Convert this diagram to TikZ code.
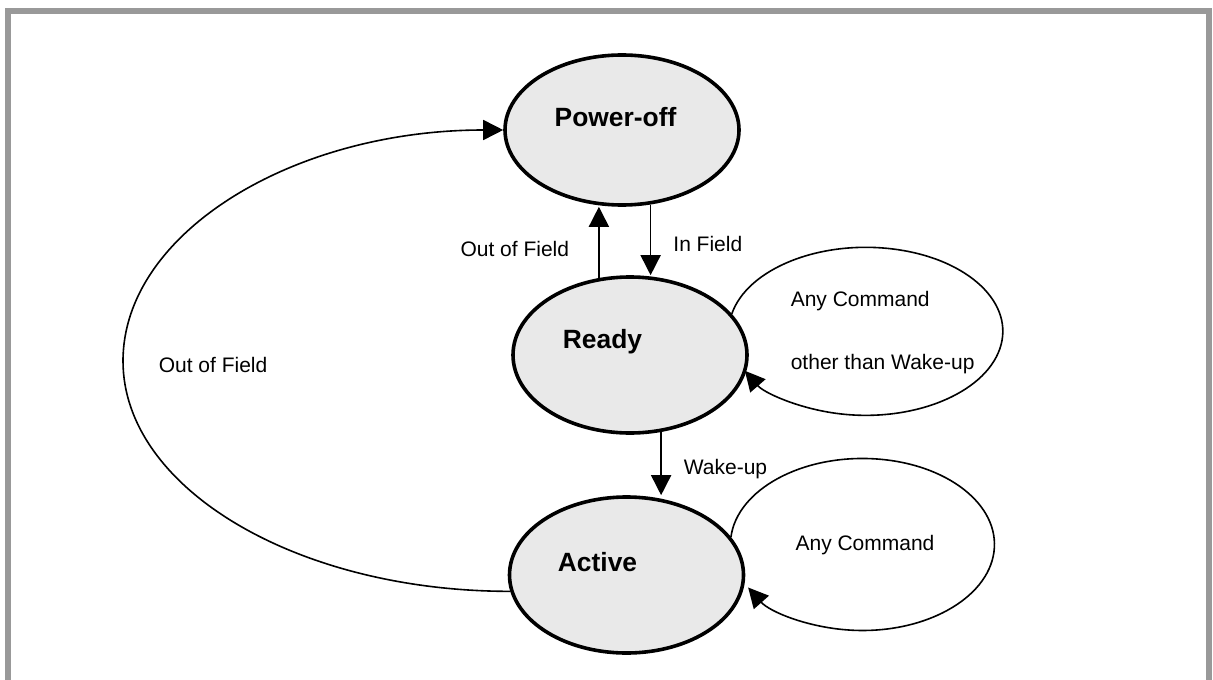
\documentclass[tikz,border=0pt]{standalone}
\usepackage{fontspec}
\setmainfont{Liberation Sans}
\usetikzlibrary{shapes.geometric,arrows.meta}

\definecolor{stategray}{HTML}{E9E9E9}
\definecolor{framegray}{HTML}{999999}

\tikzset{
  state/.style={draw,ellipse,line width=1.8pt,fill=stategray,minimum width=117pt,inner sep=0pt},
  statename/.style={font=\fontsize{13.2}{15}\selectfont\bfseries},
  lbl/.style={font=\fontsize{10.5}{12}\selectfont,inner sep=0pt},
  >={Triangle[length=10pt,width=10pt]}
}

\begin{document}
\begin{tikzpicture}[x=0.5pt,y=-0.5pt,line width=0.8pt]
  \useasboundingbox (0,0) rectangle (1213,679);
  \draw[framegray,line width=3pt] (8,680) -- (8,11) -- (1208.5,11) -- (1208.5,680);
  % the three states
  \foreach \n/\t/\x/\y/\h/\dx in {poweroff/Power-off/622/130/75/-3.25, ready/Ready/630/355/78/-13.75, active/Active/626.5/575/78/-14.5}{
    \node[state,minimum height=\h pt,label={[statename,xshift=\dx pt,yshift=6.5pt]center:\t}](\n) at(\x,\y) {};
  }
  % transitions
  \draw[->](ready.112)--node[lbl,pos=0.41,left=14.5pt](outshort){Out of Field}(ready.112 |- poweroff.south);
  \draw[->](poweroff.-69)--node[lbl,pos=0.56,right=11pt](infield){In Field}(poweroff.-69 |- ready.north);
  \draw[->](ready.-68)--node[lbl,pos=0.59,right=11pt](wakeup){Wake-up}(ready.-68 |- active.north);
  \coordinate (farleft) at (123,361);
  \draw[->](active.188) .. controls +(-214,0) and +(0,127) .. (farleft)
    node[lbl,right=17.5pt,yshift=-2pt](outlong){Out of Field}
    .. controls +(0,-127.6) and +(-211,0) .. (poweroff.west);
  % self loops
  \draw[->](ready.22) arc[start angle=168,end angle=-152,x radius=68.5pt,y radius=42pt];
  \draw[->](active.20) arc[start angle=175,end angle=-150,x radius=66pt,y radius=43pt];
  \node[lbl,align=left,anchor=north west](readycmd) at(790,290) {Any Command\\[19.5pt]other than Wake-up};
  \node[lbl](activecmd) at(865,544.7) {Any Command};
\end{tikzpicture}
\end{document}
